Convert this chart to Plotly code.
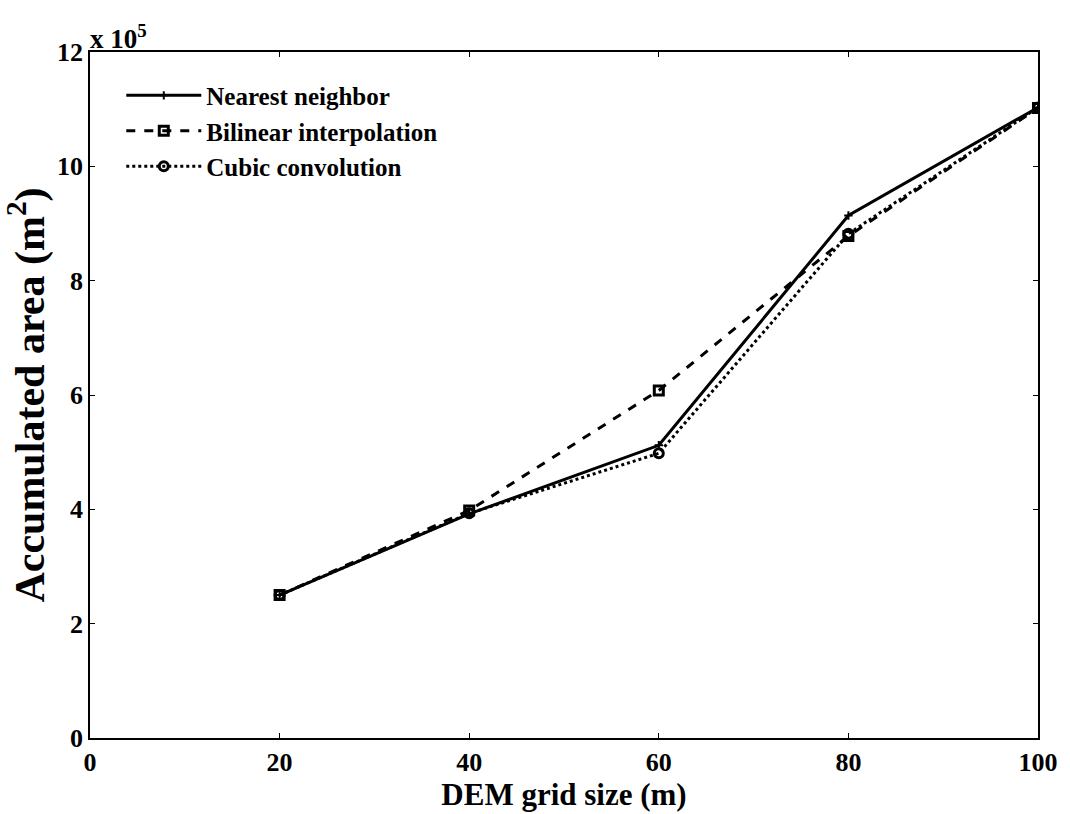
import plotly.graph_objects as go

# DEM grid size (m)
grid_size = [20, 40, 60, 80, 100]
# Accumulated area, in units of 1e5 m^2
nearest = [2.50, 3.92, 5.12, 9.14, 11.03]
bilinear = [2.50, 3.98, 6.08, 8.78, 11.02]
cubic = [2.50, 3.93, 4.98, 8.82, 11.03]

x_ticks = [0, 20, 40, 60, 80, 100]
y_ticks = [0, 2, 4, 6, 8, 10, 12]

FONT = "Liberation Serif"

fig = go.Figure()
fig.add_trace(go.Scatter(
    x=grid_size, y=nearest, name="<b>Nearest neighbor</b>", mode="lines+markers",
    line=dict(color="black", width=3, dash="solid"),
    marker=dict(symbol="cross-thin-open", size=6, color="black",
                line=dict(color="black", width=2)),
))
fig.add_trace(go.Scatter(
    x=grid_size, y=bilinear, name="<b>Bilinear interpolation</b>", mode="lines+markers",
    line=dict(color="black", width=3, dash="dash"),
    marker=dict(symbol="square-open", size=9, color="black",
                line=dict(color="black", width=3)),
))
fig.add_trace(go.Scatter(
    x=grid_size, y=cubic, name="<b>Cubic convolution</b>", mode="lines+markers",
    line=dict(color="black", width=3, dash="dot"),
    marker=dict(symbol="circle-open", size=9, color="black",
                line=dict(color="black", width=3)),
))

axis_common = dict(
    showline=True, linecolor="black", linewidth=1.5, mirror="ticks",
    ticks="inside", ticklen=5, tickcolor="black", tickwidth=1,
    showgrid=False, zeroline=False,
    tickfont=dict(family=FONT, size=26, color="black"),
)

fig.update_layout(
    width=1070, height=814,
    paper_bgcolor="white", plot_bgcolor="white",
    margin=dict(l=90, r=29, t=52, b=76),
    font=dict(family=FONT, color="black"),
    xaxis=dict(
        range=[0, 100], tickvals=x_ticks, ticktext=[f"<b>{v}</b>" for v in x_ticks],
        title=dict(text="<b>DEM grid size (m)</b>", font=dict(family=FONT, size=31), standoff=2),
        **axis_common,
    ),
    yaxis=dict(
        range=[0, 12], tickvals=y_ticks, ticktext=[f"<b>{v}</b>" for v in y_ticks],
        title=dict(text="<b>Accumulated area (m<sup>2</sup>)</b>", font=dict(family=FONT, size=42), standoff=5),
        **axis_common,
    ),
    legend=dict(
        x=0.033, y=0.97, xanchor="left", yanchor="top",
        bgcolor="rgba(0,0,0,0)", borderwidth=0,
        font=dict(family=FONT, size=25, color="black"),
        itemwidth=75, tracegroupgap=0,
    ),
    showlegend=True,
)

fig.add_annotation(
    text="<b>x 10<sup>5</sup></b>", xref="paper", yref="paper",
    x=0, y=1, xanchor="left", yanchor="bottom", showarrow=False,
    font=dict(family=FONT, size=27, color="black"), yshift=-4, xshift=-2,
)

fig.write_html("out.html")
